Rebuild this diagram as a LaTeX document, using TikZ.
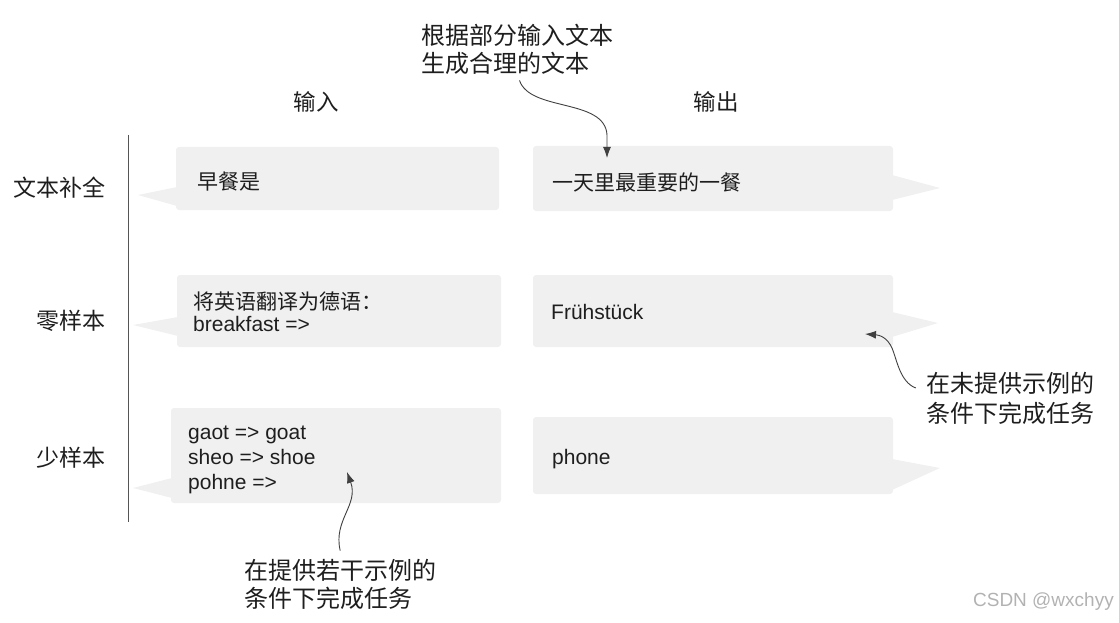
\documentclass[tikz,border=0pt]{standalone}
\usepackage{fontspec}
\setmainfont{Liberation Sans}
\newfontfamily\cjk{Noto Sans CJK SC}
\usetikzlibrary{arrows.meta}
\definecolor{bubblegray}{HTML}{F0F0F0}
\definecolor{ink}{HTML}{1E1E1E}
\definecolor{rulegray}{HTML}{555555}
\begin{document}
\begin{tikzpicture}[x=1pt,y=-1pt,
  every node/.style={text=ink},
  bubble/.style={fill=bubblegray, rounded corners=3pt},
  tail/.style={fill=bubblegray},
  bubbletext/.style={anchor=west, inner sep=0pt, align=left, font=\fontsize{21}{25}\selectfont},
  rowlabel/.style={anchor=east, inner sep=0pt, font=\cjk\fontsize{23}{28}\selectfont},
  header/.style={inner sep=0pt, font=\cjk\fontsize{22.5}{27}\selectfont},
  note/.style={align=left, inner sep=0pt, font=\cjk\fontsize{24}{28}\selectfont},
  pointer/.style={draw=ink!85, line width=0.9pt, -{Latex[length=11pt,width=8pt]}}
]
\useasboundingbox (0,0) rectangle (1119,623);

% vertical rule
\draw[rulegray, line width=1pt] (128,135) -- (128,522);

% headers
\node[header] (hin) at (316,102) {输入};
\node[header] (hout) at (716,102) {输出};

% row labels
\node[rowlabel] (r1) at (106,188) {文本补全};
\node[rowlabel] (r2) at (106,321) {零样本};
\node[rowlabel] (r3) at (106,458) {少样本};

% tails
\fill[tail] (177,187) -- (138,195) -- (177,206) -- cycle;
\fill[tail] (178,317) -- (133,325) -- (178,336) -- cycle;
\fill[tail] (172,478) -- (133,488) -- (172,498) -- cycle;
\fill[tail] (892,175) -- (940,188) -- (892,200) -- cycle;
\fill[tail] (892,312) -- (938,323) -- (892,337) -- cycle;
\fill[tail] (892,459) -- (940,468) -- (892,490) -- cycle;

% bubbles
\fill[bubble] (176,147) rectangle (499,210);
\fill[bubble] (533,146) rectangle (893,211);
\fill[bubble] (177,275) rectangle (501,347);
\fill[bubble] (533,275) rectangle (893,347);
\fill[bubble] (171,408) rectangle (501,503);
\fill[bubble] (533,417) rectangle (893,494);

% bubble texts
\node[bubbletext] (in1) at (197,182) {\cjk 早餐是};
\node[bubbletext] (out1) at (552,182) {\cjk 一天里最重要的一餐};
\node[bubbletext, font=\fontsize{21}{22}\selectfont] (in2) at (193,312) {{\cjk 将英语翻译为德语：}\\breakfast =>};
\node[bubbletext] (out2) at (551,312) {Frühstück};
\node[bubbletext] (in3) at (188,460) {gaot => goat\\sheo => shoe\\pohne =>};
\node[bubbletext] (out3) at (552,459) {phone};

% annotations
\node[note] (ann1) at (517.5,49) {根据部分输入文本\\生成合理的文本};
\node[note, font=\cjk\fontsize{24}{30}\selectfont] (ann2) at (1010,398) {在未提供示例的\\条件下完成任务};
\node[note, anchor=west] (ann3) at (244,584) {在提供若干示例的\\条件下完成任务};

% pointer targets
\coordinate (t1) at (607,158);
\coordinate (t2) at (865,334);
\coordinate (t3) at (347,472);

\draw[pointer] ([xshift=2pt,yshift=-6pt]ann1.south) .. controls (530,112) and (605,98) .. (607,135) -- (t1);
\draw[pointer] ([xshift=-10pt,yshift=10pt]ann2.west) .. controls (900,382) and (897,360) .. (892,348) .. controls (887,337) and (879,335) .. (t2);
\draw[pointer] ([yshift=8pt]ann3.north) .. controls (333,520) and (359,505) .. (t3);

% watermark
\node[anchor=east, inner sep=0pt, text=black!30, font=\fontsize{19}{22}\selectfont] (wm) at (1114,602) {CSDN @wxchyy};
\end{tikzpicture}
\end{document}
